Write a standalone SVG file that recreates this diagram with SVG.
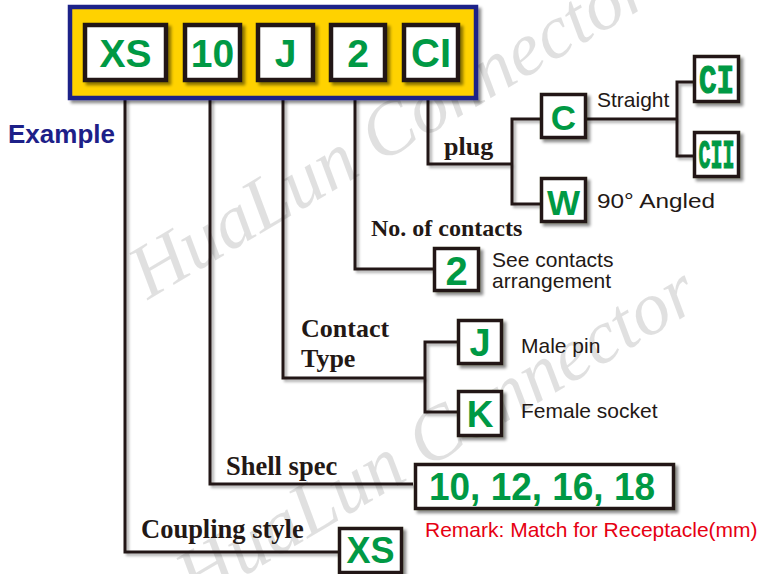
<svg xmlns="http://www.w3.org/2000/svg" width="763" height="574" viewBox="0 0 763 574">
<defs>
<filter id="sh" x="-20%" y="-20%" width="140%" height="140%">
<feDropShadow dx="3" dy="3" stdDeviation="1.8" flood-color="#000" flood-opacity="0.45"/>
</filter>
<filter id="lsh" x="-5%" y="-5%" width="110%" height="110%">
<feDropShadow dx="2.5" dy="2.5" stdDeviation="1.2" flood-color="#000" flood-opacity="0.3"/>
</filter>
</defs>
<style>
.wm{font-family:"Liberation Serif",serif;font-style:italic;font-size:76px;fill:#000;fill-opacity:0.12}
.box{fill:#fff;stroke:#231815;stroke-width:3.5}
.tbox{fill:#fff;stroke:#231815;stroke-width:4.5}
.g{font-family:"Liberation Sans",Arial,sans-serif;font-weight:bold;fill:#009944;text-anchor:middle}
.gm{font-family:"Liberation Mono","Courier New",monospace;font-weight:bold;font-size:40px;fill:#009944;stroke:#009944;stroke-width:1.2}
.lbl{font-family:"Liberation Serif","Times New Roman",serif;font-weight:bold;fill:#231815}
.s{font-family:"Liberation Sans",Arial,sans-serif;font-size:21px;fill:#231815}
.ln{fill:none;stroke:#231815;stroke-width:3}
</style>
<g id="watermark">
<text class="wm" transform="translate(148,300) rotate(-30.5)">HuaLun Connector</text>
<text class="wm" transform="translate(195,605) rotate(-30.5)">HuaLun Connector</text>
</g>
<g id="connectors" filter="url(#lsh)">
<path class="ln" d="M125,98 V552 H338"/>
<path class="ln" d="M210,98 V484 H413"/>
<path class="ln" d="M283,98 V378 H425"/>
<path class="ln" d="M457,342 H425 V412 H457"/>
<path class="ln" d="M355,98 V269 H433"/>
<path class="ln" d="M428,98 V164 H512"/>
<path class="ln" d="M540,119 H512 V204 H540"/>
<path class="ln" d="M587,119 H677"/>
<path class="ln" d="M693,82 H677 V156 H693"/>
</g>
<g id="banner">
<rect x="70" y="7" width="406" height="91" fill="#ffd200" stroke="#1d2088" stroke-width="4.5" filter="url(#sh)"/>
</g>
<g id="top-XS"><rect class="tbox" x="85" y="25" width="81" height="55" filter="url(#sh)"/><text class="g" x="125.5" y="67" font-size="39">XS</text></g>
<g id="top-10"><rect class="tbox" x="185" y="25" width="55" height="55" filter="url(#sh)"/><text class="g" x="212.5" y="67" font-size="39">10</text></g>
<g id="top-J"><rect class="tbox" x="258" y="25" width="55" height="55" filter="url(#sh)"/><text class="g" x="285.5" y="67" font-size="39">J</text></g>
<g id="top-2"><rect class="tbox" x="331" y="25" width="54" height="55" filter="url(#sh)"/><text class="g" x="358" y="67" font-size="39">2</text></g>
<g id="top-CI"><rect class="tbox" x="404" y="25" width="54" height="55" filter="url(#sh)"/><text class="g" x="431" y="67" font-size="40">CI</text></g>
<g id="example"><text x="8" y="143" font-family="Liberation Sans,Arial,sans-serif" font-weight="bold" font-size="26" fill="#1d2088">Example</text></g>
<g id="plug-label"><text class="lbl" x="444" y="155" font-size="26">plug</text></g>
<g id="node-C"><rect class="box" x="541.5" y="94.5" width="44" height="43" filter="url(#sh)"/><text class="g" x="563.5" y="130" font-size="35">C</text></g>
<g id="node-W"><rect class="box" x="541.5" y="178.5" width="44" height="43" filter="url(#sh)"/><text class="g" x="563.5" y="215" font-size="35">W</text></g>
<g id="straight-label"><text class="s" x="597" y="107">Straight</text></g>
<g id="angled-label"><text class="s" x="597" y="208" textLength="118" lengthAdjust="spacingAndGlyphs">90° Angled</text></g>
<g id="node-CI"><rect class="box" x="694.5" y="56.5" width="44" height="45" filter="url(#sh)"/><text class="gm" transform="translate(699,93) scale(0.73,1)">CI</text></g>
<g id="node-CII"><rect class="box" x="694.5" y="132.5" width="44" height="44" filter="url(#sh)"/><text class="gm" transform="translate(698.5,168) scale(0.5,1)">CII</text></g>
<g id="contacts-label"><text class="lbl" x="371" y="236" font-size="24">No. of contacts</text></g>
<g id="node-2"><rect class="box" x="434.5" y="248.5" width="44" height="42" filter="url(#sh)"/><text class="g" x="456.5" y="285" font-size="40">2</text></g>
<g id="contacts-note"><text class="s" x="492" y="267">See contacts</text><text class="s" x="492" y="288">arrangement</text></g>
<g id="contact-type-label"><text class="lbl" x="301" y="337" font-size="26">Contact</text><text class="lbl" x="301" y="367" font-size="26">Type</text></g>
<g id="node-J"><rect class="box" x="458.5" y="320.5" width="43" height="43" filter="url(#sh)"/><text class="g" x="480" y="356" font-size="38">J</text></g>
<g id="node-K"><rect class="box" x="458.5" y="391.5" width="43" height="44" filter="url(#sh)"/><text class="g" x="480" y="427" font-size="37">K</text></g>
<g id="male-label"><text class="s" x="521" y="353">Male pin</text></g>
<g id="female-label"><text class="s" x="521" y="418">Female socket</text></g>
<g id="shell-label"><text class="lbl" x="226" y="475" font-size="26.5">Shell spec</text></g>
<g id="node-shell"><rect class="box" x="415.5" y="464.5" width="258" height="44" filter="url(#sh)"/><text class="g" x="542" y="500" font-size="38" textLength="226" lengthAdjust="spacingAndGlyphs">10, 12, 16, 18</text></g>
<g id="remark"><text x="425" y="537" font-family="Liberation Sans,Arial,sans-serif" font-size="21" fill="#e60012">Remark: Match for Receptacle(mm)</text></g>
<g id="coupling-label"><text class="lbl" x="141" y="538" font-size="26.5">Coupling style</text></g>
<g id="node-XS"><rect class="box" x="339.5" y="528.5" width="62" height="44" filter="url(#sh)"/><text class="g" x="370.5" y="563" font-size="36">XS</text></g>
</svg>
